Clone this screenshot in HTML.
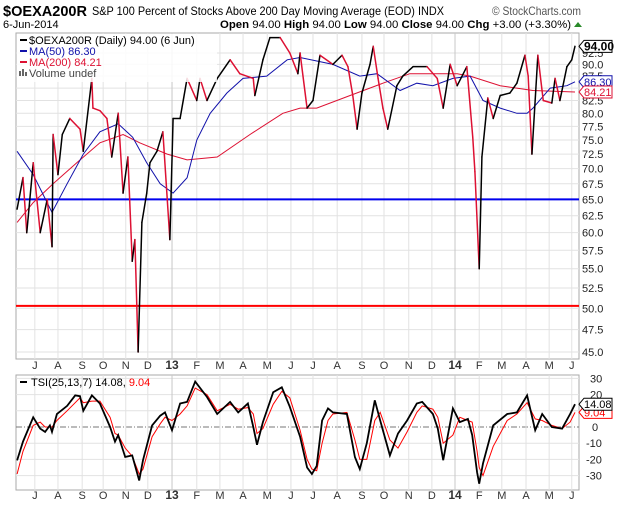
<!DOCTYPE html>
<html><head><meta charset="utf-8"><style>
body{margin:0;background:#fff;}
svg{display:block;font-family:"Liberation Sans",sans-serif;}
</style></head><body>
<svg id="c" width="620" height="507" viewBox="0 0 620 507"></svg>
<script>
const priceWeeks=[0.2,1.3,2,3.2,4.5,5.8,6.7,6.9,7.8,8.6,10,11.9,12.5,14.1,14.3,15.6,16.9,17.8,19,19.9,20.8,21.6,22.1,22.7,23.4,24.3,24.9,26.2,27.3,28.6,29.2,30.5,31.8,33.6,34.2,35.5,37.4,39.8,41.6,44.1,44.4,45.9,47.2,49.1,50.9,52.4,52.8,54.1,55.2,56.5,58.9,60.6,61.7,62.6,63.4,64.3,65.8,66.4,67.3,68.2,69.1,70.8,71.9,73.8,76.4,78.3,79.4,80.7,82,83.8,84.9,85.3,86.1,86.6,87.7,88.7,90,91.8,93.1,94.6,95.2,95.9,97,98,99.6,100.2,101.1,102.4,103.3,103.9];
const priceValues=[63.5,68.5,60,71,60,65,58,76,69,76,79,77,73,87,81,80.5,79,72,80,66,72,56,59,45,61.5,66,71,73,76.5,59,79,79,87,82.5,87,82.5,87,91,88,87,83.5,91,96,96,92.5,88,92.5,81,82.5,92,90,92,89.5,83.5,77,84,90,94,87,81,77,85.5,87.5,89.5,89.5,87,81,90,85.5,89.5,75.5,69.5,55,72,83,79,83.5,84,86,92,87.5,72.5,92,82.5,82,87,82.5,89.5,91,94];
const ma50Weeks=[0.2,3.2,6.7,9.5,12.5,15.6,19,21.7,24.3,26.8,29.2,31.8,33.6,36.1,39.2,42.2,46.6,50.4,52.8,58.9,63.9,67.1,71.4,74.5,77.5,81.2,84.4,86.8,90,93.1,95,96.1,99.3,102.4,103.9];
const ma50Values=[73,69,63,67.5,72.5,76.5,78,75.5,71,67.5,66,68.5,75,80,84,87,87.5,91,91.5,90,87.5,88,84.5,86,85.5,87,87.5,82.5,81,80,80,81,85,85.5,86.3];
const ma200Weeks=[0.2,3.2,6.9,11.3,15.6,19.9,23,28.1,31.8,37.4,43.5,49.6,52.8,55.9,62.1,68.2,73.2,82,84.4,90,96.1,103.9];
const ma200Values=[61.5,64.5,67.5,71,74.5,76,74.5,72.5,71.5,72,76,80,81,81,83.5,86,88,88,87.5,85.5,84.5,84.21];
const tsiWeeks=[0.2,1.3,3.2,4.5,5.4,6.3,6.7,7.6,9.5,11,11.9,12.5,14.1,15.6,17.5,18.4,19,20.3,21.6,22.9,23.6,25.3,26.8,27.7,29,30.5,31.8,33.3,35.5,37.4,39.8,41.3,43.1,44.1,44.8,45.9,47.8,49.4,50.9,52.8,54.1,55,55.9,56.9,58,58.9,61.5,63,63.9,65.2,66.7,67.7,69.5,71,72.7,74.5,75.5,77.5,78.4,79.4,81.2,82.5,84,84.8,85.7,86.1,86.8,88.7,91.3,93.1,95,96.5,97.8,99.6,101.5,103,103.9];
const tsiValues=[-20.6,-9,6,-1,-3,1,-3,8,13,19.5,19,10,19.5,14.5,0,-9,-5,-18.5,-17.5,-33,-20.5,1,7,9,-2,14.5,15.5,28,18.5,8,15.5,9,14.5,0,-11,3,21.5,24.5,12.5,-6,-25,-29,-24,4,11.5,9,8,-18.5,-26,-10,16.5,4,-17.5,-4,4,14.5,15.5,8,-1,-20.5,11.5,3,5,-5,-28,-35,-22.5,1,8,9,19.5,-2,8,0,-1,8,14.08];
const signalValues=[-29,-15,1,3,0,0,0,4,10,15,18,15,16,16,6,-4,-5,-13,-18,-29,-26,-6,2,6,4,8,13,24,20,10,14,11,12,8,-4,-1,14,22,18,-2,-20,-26,-27,-10,4,8,9,-8,-20,-20,4,9,-8,-13,-3,9,13,11,6,-10,-5,6,4,3,-15,-25,-30,-12,4,8,15,5,4,1,-1,3,9.04];
const monthLabels=["J","A","S","O","N","D","13","F","M","A","M","J","J","A","S","O","N","D","14","F","M","A","M","J"];
const monthWeeks=[3.5,7.8,12.3,16.2,20.4,24.5,29,33.6,37.9,42.2,46.7,51.1,55.2,59.7,64.3,68.4,73,77.3,81.6,86.1,90.3,94.8,99.1,103.3];
const priceTicks=[92.5,90,87.5,85,82.5,80,77.5,75,72.5,70,67.5,65,62.5,60,57.5,55,52.5,50,47.5,45];
const tsiTicks=[30,20,10,0,-10,-20,-30];
const blueLevel=65, redLevel=50.3;

const NS="http://www.w3.org/2000/svg";
const svg=document.getElementById('c');
function mk(tag,attrs,parent){const e=document.createElementNS(NS,tag);for(const k in attrs)e.setAttribute(k,attrs[k]);(parent||svg).appendChild(e);return e;}
const L=16,R=579,T1=33,B1=359,T2=375,B2=490;
const xS=w=>16+w*5.38;
const yP=v=>53+415*Math.log(92.5/v);
const yT=v=>427-1.62*v;

let p=mk('rect',{x:L,y:T1,width:R-L,height:B1-T1,fill:'#fff',stroke:'#aaa'});


p=mk('rect',{x:L,y:T2,width:R-L,height:B2-T2,fill:'#fff',stroke:'#aaa'});



priceTicks.forEach(v=>{const y=yP(v);
 let g=mk('line',{x1:L,x2:R,y1:y,y2:y,stroke:'#e2e2e2'});
 
 
 let t=mk('text',{x:582,y:y+4,'font-size':11,fill:'#222'});t.textContent=v.toFixed(1);
 
 
});
tsiTicks.forEach(v=>{const y=yT(v);
 let g=mk('line',{x1:L,x2:R,y1:y,y2:y,stroke:v===0?'#777':'#e2e2e2','stroke-dasharray':v===0?'6,2,1,2':'none'});
 
 
 let t=mk('text',{x:v<0?586:(v===0?592:590),y:y+4,'font-size':11,fill:'#222'});t.textContent=v;
 
 
});
monthWeeks.forEach((w,i)=>{const x=xS(w);const yr=/\d/.test(monthLabels[i]);
 let g=mk('line',{x1:x,x2:x,y1:T1,y2:B1,stroke:yr?'#c8c8c8':'#e2e2e2'});
 
 
 g=mk('line',{x1:x,x2:x,y1:T2,y2:B2,stroke:yr?'#c8c8c8':'#e2e2e2'});
 
 
 [369,499].forEach(yy=>{let t=mk('text',{x:x,y:yy,'font-size':yr?12:11,'font-weight':yr?'bold':'normal','text-anchor':'middle',fill:'#333'});t.textContent=monthLabels[i];
 
 });
});

let h=mk('line',{x1:L,x2:R,y1:yP(blueLevel),y2:yP(blueLevel),stroke:'#0000ee','stroke-width':2});


h=mk('line',{x1:L,x2:R,y1:yP(redLevel),y2:yP(redLevel),stroke:'#ff0000','stroke-width':2});



function poly(ws,vs,ys,attrs,name){const pts=ws.map((w,i)=>xS(w).toFixed(1)+','+ys(vs[i]).toFixed(1)).join(' ');
 const e=mk('polyline',Object.assign({points:pts,fill:'none'},attrs));
 
 return e;}
poly(ma200Weeks,ma200Values,yP,{stroke:'#dd1133','stroke-width':1},'ma200-line');
poly(ma50Weeks,ma50Values,yP,{stroke:'#1111aa','stroke-width':1},'ma50-line');
for(let i=1;i<priceWeeks.length;i++){
 const s=mk('line',{x1:xS(priceWeeks[i-1]),y1:yP(priceValues[i-1]),x2:xS(priceWeeks[i]),y2:yP(priceValues[i]),stroke:priceValues[i]<priceValues[i-1]?'#dd1133':'#000','stroke-width':1.5,'stroke-linecap':'round'});
 
 
}
poly(tsiWeeks,signalValues,yT,{stroke:'#ff0000','stroke-width':1},'tsi-signal-line');
poly(tsiWeeks,tsiValues,yT,{stroke:'#000','stroke-width':1.8},'tsi-line');

function tag(v,y,color,bold,name){const g=mk('g',{});
 
 
 mk('path',{d:`M${R} ${y} L${R+5} ${y-6} H612 V${y+6} H${R+5} Z`,fill:'#fff',stroke:color},g);
 const t=mk('text',{x:584,y:y+4,'font-size':bold?12:11,'font-weight':bold?'bold':'normal',fill:color},g);t.textContent=v;}
tag('86.30',yP(ma50Values[ma50Values.length-1]),'#1111aa',false,'ma50-value-tag');
tag('84.21',yP(ma200Values[ma200Values.length-1]),'#dd1133',false,'ma200-value-tag');
tag('94.00',yP(priceValues[priceValues.length-1]),'#000',true,'price-value-tag');
tag('9.04',yT(signalValues[signalValues.length-1]),'#ff0000',false,'signal-value-tag');
tag('14.08',yT(tsiValues[tsiValues.length-1]),'#000',false,'tsi-value-tag');
</script>
<svg width="620" height="507" style="position:absolute;left:0;top:0">
<g font-family="Liberation Sans, sans-serif">
<text x="3" y="16" font-size="15" font-weight="bold" textLength="84" lengthAdjust="spacingAndGlyphs">$OEXA200R</text>
<text x="92" y="15" font-size="12" textLength="352" lengthAdjust="spacingAndGlyphs">S&amp;P 100 Percent of Stocks Above 200 Day Moving Average (EOD) INDX</text>
<text x="492" y="15" font-size="12" fill="#555" textLength="89" lengthAdjust="spacingAndGlyphs">© StockCharts.com</text>
<text x="3" y="28" font-size="11">6-Jun-2014</text>
<text x="220" y="28" font-size="11" textLength="351" lengthAdjust="spacingAndGlyphs"><tspan font-weight="bold">Open</tspan> 94.00 <tspan font-weight="bold">High</tspan> 94.00 <tspan font-weight="bold">Low</tspan> 94.00 <tspan font-weight="bold">Close</tspan> 94.00 <tspan font-weight="bold">Chg</tspan> +3.00 (+3.30%)</text>
<path d="M574 27 L578 22 L582 27 Z" fill="#2a8a2a"/>
<g>
<rect x="17" y="34" width="200" height="48" fill="#fff" opacity="0.85"/>
<line x1="20" y1="40" x2="27" y2="40" stroke="#000" stroke-width="2"/>
<text x="29" y="44" font-size="11">$OEXA200R (Daily) 94.00 (6 Jun)</text>
<line x1="20" y1="51" x2="27" y2="51" stroke="#1111aa" stroke-width="2"/>
<text x="29" y="55" font-size="11" fill="#1111aa">MA(50) 86.30</text>
<line x1="20" y1="62" x2="27" y2="62" stroke="#dd1133" stroke-width="2"/>
<text x="29" y="66" font-size="11" fill="#dd1133">MA(200) 84.21</text>
<rect x="19" y="71" width="2" height="5" fill="#666"/><rect x="22" y="69" width="2" height="7" fill="#666"/><rect x="25" y="72" width="2" height="4" fill="#666"/>
<text x="29" y="77" font-size="11" fill="#444">Volume undef</text>
</g>
<g>
<line x1="20" y1="382" x2="27" y2="382" stroke="#000" stroke-width="2"/>
<text x="31" y="386" font-size="11">TSI(25,13,7) 14.08, <tspan fill="#ff0000">9.04</tspan></text>
</g>
</g>
</svg>
</body></html>
